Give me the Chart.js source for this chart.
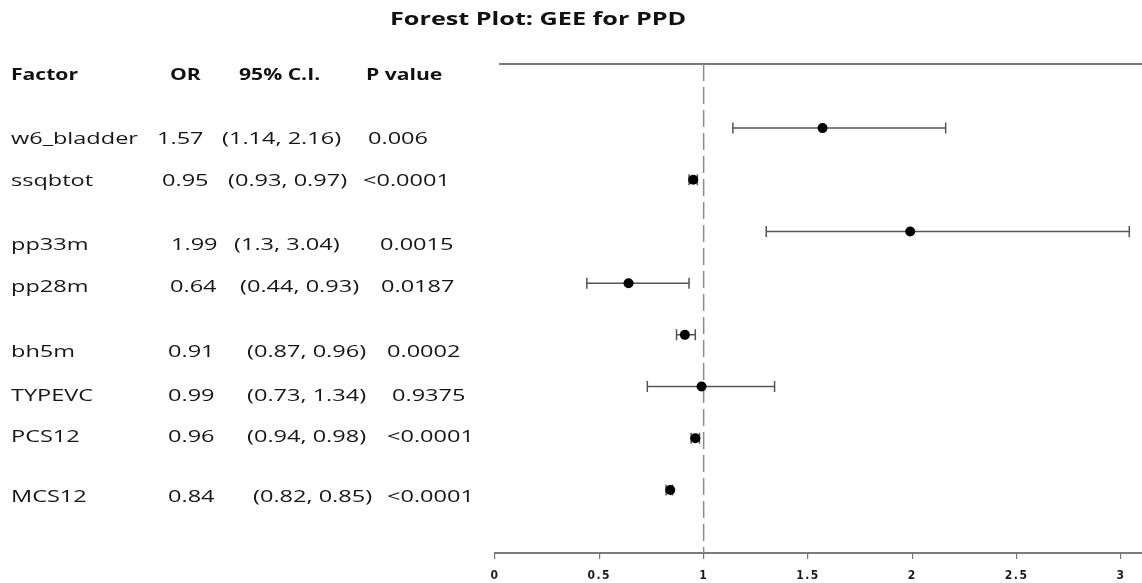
<!DOCTYPE html>
<html>
<head>
<meta charset="utf-8">
<title>Forest Plot: GEE for PPD</title>
<script src="https://cdn.jsdelivr.net/npm/chart.js@4.4.1/dist/chart.umd.min.js"></script>
<style>
    html, body { margin: 0; padding: 0; background: #fff; }
    #forestChart { display: block; }
</style>
</head>
<body>
<canvas id="forestChart" width="1142" height="583"></canvas>
<script>
// data
const factors = ["w6_bladder", "ssqbtot", "pp33m", "pp28m", "bh5m", "TYPEVC", "PCS12", "MCS12"];
const oddsRatios = [1.57, 0.95, 1.99, 0.64, 0.91, 0.99, 0.96, 0.84];
const ciLower = [1.14, 0.93, 1.3, 0.44, 0.87, 0.73, 0.94, 0.82];
const ciUpper = [2.16, 0.97, 3.04, 0.93, 0.96, 1.34, 0.98, 0.85];
const pValues = ["0.006", "<0.0001", "0.0015", "0.0187", "0.0002", "0.9375", "<0.0001", "<0.0001"];
const xTicks = [0, 0.5, 1, 1.5, 2, 2.5, 3];
const headers = ["Factor", "OR", "95% C.I.", "P value"];

// layout of the table on the left (pixels)
const headerX = [11, 170, 239, 366];
const rowBaseline = [144, 186, 250, 292, 357, 401, 442, 502];
const nameX = 11;
const orX = [157, 162, 171, 170, 168, 168, 168, 168];
const ciX = [222, 228, 234, 240, 247, 247, 247, 253];
const pX = [368, 363, 380, 381, 387, 392, 387, 387];

function stretchText(ctx, str, x, y, sx) {
    ctx.save();
    ctx.translate(x, y);
    ctx.scale(sx, 1);
    ctx.fillText(str, 0, 0);
    ctx.restore();
}

const forestPlugin = {
    id: "forest",
    beforeDraw(chart) {
        // spaced out tick labels like the original axis
        chart.ctx.letterSpacing = "1.5px";
    },
    beforeDatasetsDraw(chart) {
        const ctx = chart.ctx;
        ctx.letterSpacing = "0px";
        const xs = chart.scales.x;
        const ys = chart.scales.y;
        const area = chart.chartArea;

        // top border line
        ctx.save();
        ctx.strokeStyle = "#7a7a7a";
        ctx.lineWidth = 2;
        ctx.beginPath();
        ctx.moveTo(area.left + 4, area.top);
        ctx.lineTo(chart.width, area.top);
        ctx.stroke();

        // bottom axis runs to the edge
        ctx.beginPath();
        ctx.moveTo(area.right - 1, area.bottom);
        ctx.lineTo(chart.width, area.bottom);
        ctx.stroke();

        // reference line at OR = 1
        const x1 = xs.getPixelForValue(1);
        ctx.strokeStyle = "#8a8a8a";
        ctx.lineWidth = 1.5;
        ctx.setLineDash([17, 6]);
        ctx.beginPath();
        ctx.moveTo(x1, area.top);
        ctx.lineTo(x1, area.bottom);
        ctx.stroke();
        ctx.setLineDash([]);

        // confidence intervals
        ctx.strokeStyle = "#555";
        ctx.lineWidth = 1.5;
        factors.forEach((f, i) => {
            const y = ys.getPixelForValue(i);
            const a = xs.getPixelForValue(ciLower[i]);
            const b = xs.getPixelForValue(ciUpper[i]);
            ctx.beginPath();
            ctx.moveTo(a, y);
            ctx.lineTo(b, y);
            ctx.moveTo(a, y - 5.5);
            ctx.lineTo(a, y + 5.5);
            ctx.moveTo(b, y - 5.5);
            ctx.lineTo(b, y + 5.5);
            ctx.stroke();
        });
        ctx.restore();
    },
    afterDraw(chart) {
        const ctx = chart.ctx;
        ctx.save();
        ctx.letterSpacing = "0px";
        ctx.textBaseline = "alphabetic";
        ctx.textAlign = "left";

        // title
        ctx.fillStyle = "#111";
        ctx.font = "bold 18px 'Open Sans'";
        stretchText(ctx, "Forest Plot: GEE for PPD", 390, 25, 1.4);

        // table header
        ctx.font = "bold 16px 'Open Sans'";
        headers.forEach((h, i) => stretchText(ctx, h, headerX[i], 80, 1.32));

        // table rows
        ctx.fillStyle = "#161616";
        ctx.font = "16px 'Open Sans'";
        factors.forEach((f, i) => {
            const y = rowBaseline[i];
            stretchText(ctx, f, nameX, y, 1.47);
            stretchText(ctx, oddsRatios[i].toFixed(2), orX[i], y, 1.47);
            stretchText(ctx, "(" + ciLower[i] + ", " + ciUpper[i] + ")", ciX[i], y, 1.47);
            stretchText(ctx, pValues[i], pX[i], y, 1.47);
        });
        ctx.restore();
    }
};

const ctx = document.getElementById("forestChart").getContext("2d");
const chart = new Chart(ctx, {
    type: "scatter",
    data: {
        datasets: [{
            data: factors.map((f, i) => ({ x: oddsRatios[i], y: i })),
            backgroundColor: "#000",
            borderWidth: 0,
            pointRadius: 5,
            pointHoverRadius: 5
        }]
    },
    options: {
        responsive: false,
        animation: false,
        events: [],
        layout: { padding: { left: 495, top: 64, right: 0, bottom: 0 } },
        plugins: {
            legend: { display: false },
            title: { display: false },
            tooltip: { enabled: false }
        },
        scales: {
            x: {
                type: "linear",
                min: 0,
                max: 3.077,
                afterFit(scale) { scale.height = 30; },
                afterBuildTicks(scale) {
                    scale.ticks = xTicks.map(v => ({ value: v }));
                },
                grid: {
                    drawOnChartArea: false,
                    drawTicks: true,
                    tickLength: 6,
                    color: "#777",
                    lineWidth: 1.2
                },
                border: { display: true, color: "#7a7a7a", width: 2 },
                ticks: {
                    maxRotation: 0,
                    autoSkip: false,
                    padding: 10,
                    color: "#1a1a1a",
                    callback: v => String(v),
                    font: { family: "'Liberation Sans Narrow', 'DejaVu Sans Condensed', sans-serif", size: 12, weight: "bold" }
                }
            },
            y: {
                type: "linear",
                display: false,
                reverse: true,
                min: -1.24,
                max: 8.22
            }
        }
    },
    plugins: [forestPlugin]
});
</script>
</body>
</html>
